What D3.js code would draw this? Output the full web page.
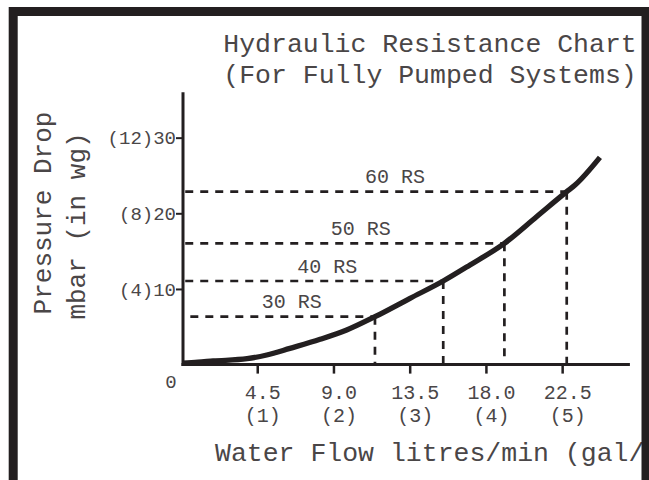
<!DOCTYPE html>
<html>
<head>
<meta charset="utf-8">
<script src="https://cdnjs.cloudflare.com/ajax/libs/d3/7.8.5/d3.min.js"></script>
<style>
  body { margin: 0; background: #fff; }
  text { font-family: "Liberation Mono", "Courier New", monospace; fill: #4a4647; }
</style>
</head>
<body>
<div id="chart"></div>
<script>
// Curve (flow l/min, pressure drop mbar)
var flowValues = [0.1, 1.0, 1.9, 3.9, 5.06, 6.43, 8.21, 9.78, 11.45, 13.52, 15.48, 17.06, 19.09, 20.99, 22.77, 23.26, 24.73];
var dropValues = [0.2, 0.32, 0.48, 0.78, 1.27, 2.15, 3.34, 4.57, 6.33, 8.76, 11.05, 13.17, 16.03, 19.55, 22.86, 23.74, 27.4];

// Boiler ratings and their design points
var ratingNames = ["30 RS", "40 RS", "50 RS", "60 RS"];
var ratingFlow = [11.45, 15.48, 19.09, 22.77];
var ratingDrop = [6.33, 11.05, 16.03, 22.86];

// Tick labels
var xTickValues = [4.5, 9.0, 13.5, 18.0, 22.5];
var xTickLabels = ["4.5", "9.0", "13.5", "18.0", "22.5"];
var xTickGal = ["(1)", "(2)", "(3)", "(4)", "(5)"];
var yTickValues = [10, 20, 30];
var yTickLabels = ["(4)10", "(8)20", "(12)30"];

var ink = "#231f20";
var svgWidth = 649, svgHeight = 480;

var svg = d3.select("#chart")
  .append("svg")
  .attr("width", svgWidth)
  .attr("height", svgHeight);

// Scales
var xScale = d3.scaleLinear().domain([0, 26.5]).range([181, 181 + 26.5 * 16.94]);
var yScale = d3.scaleLinear().domain([0, 36]).range([364.6, 364.6 - 36 * 7.565]);

var chart = svg.append("g");

// Axes (custom look: thick lines, short ticks)
var bottomAxis = d3.axisBottom(xScale).tickValues(xTickValues).tickSize(9).tickFormat("");
var leftAxis = d3.axisLeft(yScale).tickValues(yTickValues).tickSize(7).tickFormat("");

var xAxisG = chart.append("g")
  .attr("transform", "translate(0," + yScale(0) + ")")
  .call(bottomAxis);
xAxisG.select(".domain").remove();
xAxisG.selectAll("line").attr("stroke", ink).attr("stroke-width", 2.5);

var yAxisG = chart.append("g")
  .attr("transform", "translate(183,0)")
  .call(leftAxis);
yAxisG.select(".domain").remove();
yAxisG.selectAll("line").attr("stroke", ink).attr("stroke-width", 2);

// y tick labels
chart.selectAll(".ylab")
  .data(yTickValues)
  .enter().append("text")
  .attr("class", "ylab")
  .attr("x", 176)
  .attr("y", function(d) { return yScale(d); })
  .attr("dy", "0.35em")
  .attr("text-anchor", "end")
  .style("font-size", "19px")
  .text(function(d, i) { return yTickLabels[i]; });

// x tick labels, two rows
chart.selectAll(".xlab")
  .data(xTickValues)
  .enter().append("text")
  .attr("class", "xlab")
  .attr("x", function(d) { return xScale(d) + 5.5; })
  .attr("y", 399)
  .attr("text-anchor", "middle")
  .style("font-size", "20px")
  .text(function(d, i) { return xTickLabels[i]; });

chart.selectAll(".xgal")
  .data(xTickValues)
  .enter().append("text")
  .attr("class", "xgal")
  .attr("x", function(d) { return xScale(d) + 5.5; })
  .attr("y", 422)
  .attr("text-anchor", "middle")
  .style("font-size", "20px")
  .text(function(d, i) { return xTickGal[i]; });

chart.append("text")
  .attr("x", 171)
  .attr("y", 381)
  .attr("dy", "0.35em")
  .attr("text-anchor", "middle")
  .style("font-size", "19px")
  .text("0");

// Dashed guide lines for each rating
var ratings = ratingNames.map(function(n, i) {
  return { name: n, flow: ratingFlow[i], drop: ratingDrop[i] };
});

var guides = chart.selectAll(".guide")
  .data(ratings)
  .enter().append("g")
  .attr("class", "guide");

guides.append("line")
  .attr("x1", function(d, i) { return i == 0 ? xScale(0.55) : xScale(0.25); })
  .attr("x2", function(d) { return xScale(d.flow); })
  .attr("y1", function(d) { return yScale(d.drop); })
  .attr("y2", function(d) { return yScale(d.drop); })
  .attr("stroke", ink)
  .attr("stroke-width", 2.7)
  .attr("stroke-dasharray", "8,7");

guides.append("line")
  .attr("x1", function(d) { return xScale(d.flow); })
  .attr("x2", function(d) { return xScale(d.flow); })
  .attr("y1", function(d) { return yScale(d.drop); })
  .attr("y2", yScale(0))
  .attr("stroke", ink)
  .attr("stroke-width", 2.7)
  .attr("stroke-dasharray", "8,7");

guides.append("text")
  .attr("x", function(d, i) {
    var x0 = i == 0 ? xScale(0.55) : xScale(0.25);
    return x0 + 0.55 * (xScale(d.flow) - x0);
  })
  .attr("y", function(d) { return yScale(d.drop) - 8.5; })
  .attr("text-anchor", "middle")
  .style("font-size", "20px")
  .text(function(d) { return d.name; });

// Axis lines
chart.append("line")
  .attr("x1", 183).attr("x2", 183)
  .attr("y1", yScale(36)).attr("y2", yScale(0) + 1.5)
  .attr("stroke", ink).attr("stroke-width", 3);

chart.append("line")
  .attr("x1", 181.5).attr("x2", xScale(26.5))
  .attr("y1", yScale(0)).attr("y2", yScale(0))
  .attr("stroke", ink).attr("stroke-width", 3);

// Resistance curve
var line = d3.line()
  .x(function(d) { return xScale(d[0]); })
  .y(function(d) { return yScale(d[1]); })
  .curve(d3.curveMonotoneX);

chart.append("path")
  .datum(flowValues.map(function(f, i) { return [f, dropValues[i]]; }))
  .attr("d", line)
  .attr("fill", "none")
  .attr("stroke", ink)
  .attr("stroke-width", 5.3);

// Titles
svg.append("text")
  .attr("x", 430).attr("y", 52)
  .attr("text-anchor", "middle")
  .style("font-size", "26.5px")
  .text("Hydraulic Resistance Chart");

svg.append("text")
  .attr("x", 430).attr("y", 83)
  .attr("text-anchor", "middle")
  .style("font-size", "26.5px")
  .text("(For Fully Pumped Systems)");

svg.append("text")
  .attr("transform", "translate(51,213) rotate(-90)")
  .attr("text-anchor", "middle")
  .style("font-size", "26px")
  .text("Pressure Drop");

svg.append("text")
  .attr("transform", "translate(85,226) rotate(-90)")
  .attr("text-anchor", "middle")
  .style("font-size", "26px")
  .text("mbar (in wg)");

svg.append("text")
  .attr("x", 215).attr("y", 461)
  .style("font-size", "26.5px")
  .text("Water Flow litres/min (gal/");

// Black frame
svg.append("rect")
  .attr("x", 13.2).attr("y", 11.5)
  .attr("width", 646 - 13.2).attr("height", 520)
  .attr("fill", "none")
  .attr("stroke", ink)
  .attr("stroke-width", 9);
</script>
</body>
</html>
